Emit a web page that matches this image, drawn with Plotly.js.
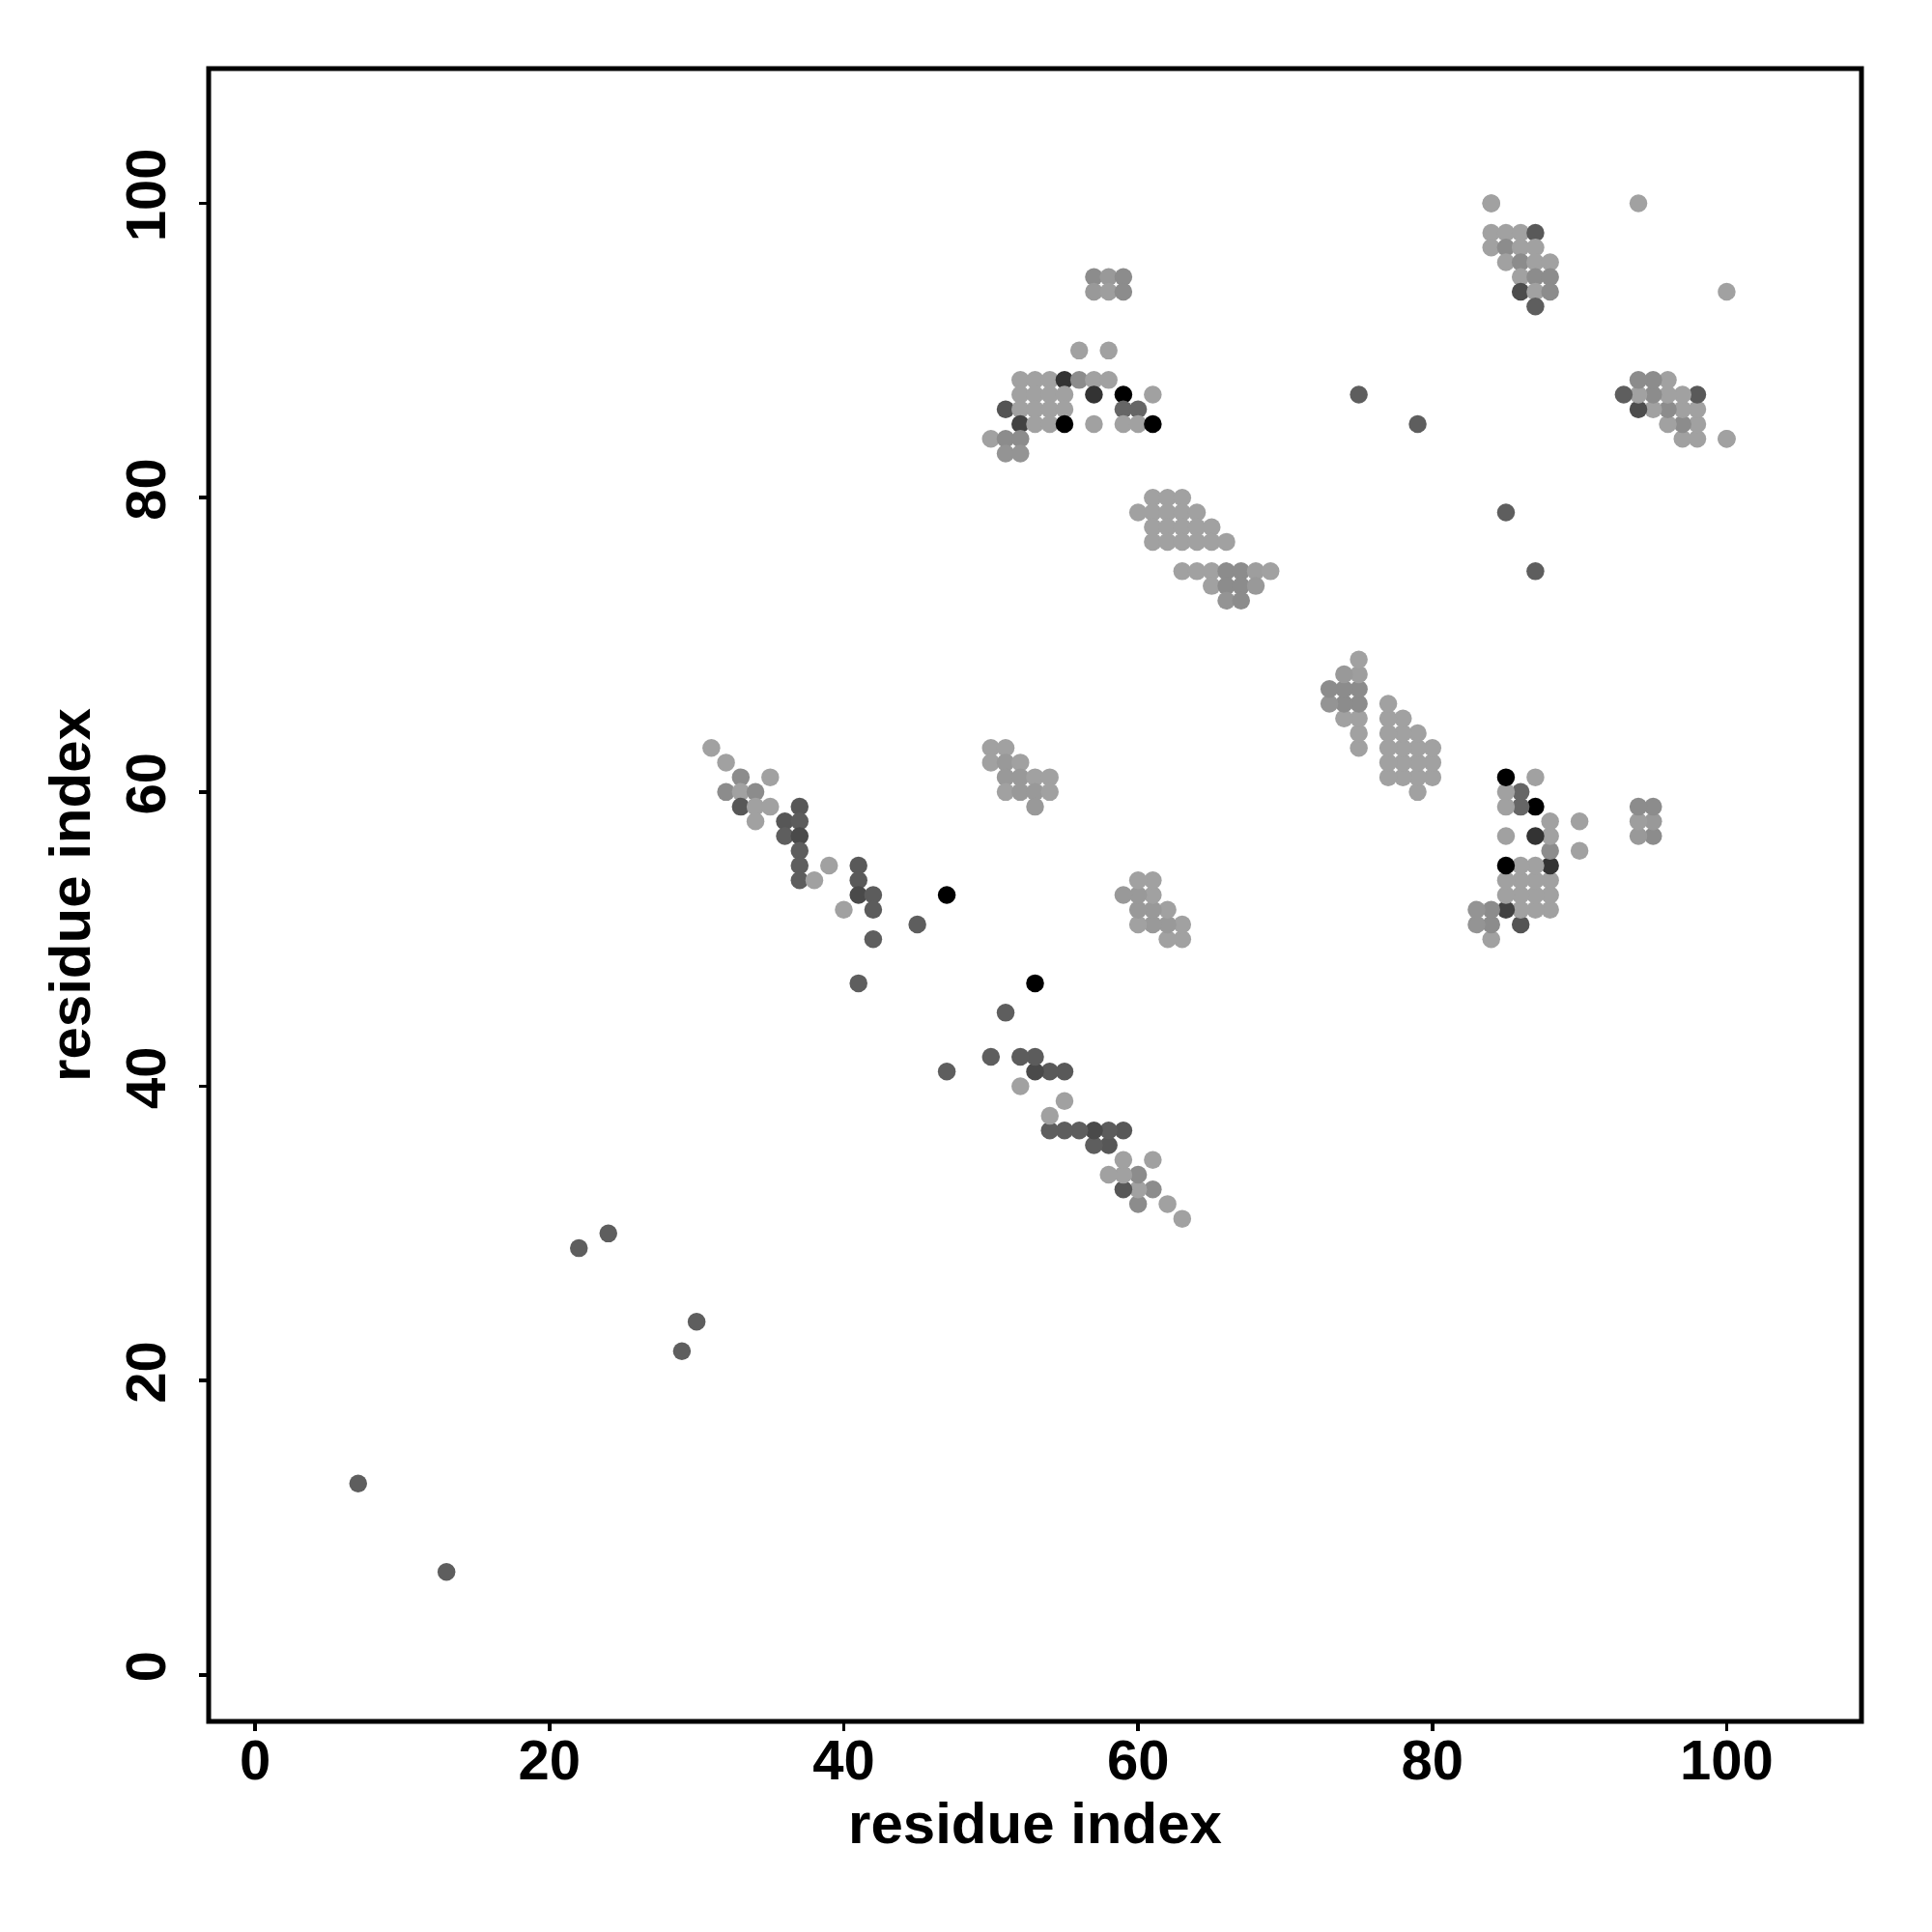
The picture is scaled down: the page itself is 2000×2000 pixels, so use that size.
<!DOCTYPE html>
<html>
<head>
<meta charset="utf-8">
<script src="https://cdn.plot.ly/plotly-3.0.1.min.js"></script>
<style>html,body{margin:0;padding:0;background:#fff;}#chart{width:2000px;height:2000px;}</style>
</head>
<body>
<div id="chart"></div>
<script>
// Contact pairs (residue i < residue j) and contact strength (0 = none, 1 = strongest)
const resI = [
  7,22,24,75,79,94,84,
  31,32,33,35,32,33,34,33,34,35,37,34,36,37,36,37,37,37,39,41,37,38,41,41,42,47,40,42,45,42,41,
  50,51,50,51,52,51,52,53,54,51,52,53,54,53,
  57,58,59,57,58,59,56,58,
  52,53,54,55,56,57,58,
  52,53,54,55,57,59,61,
  51,52,53,54,55,59,60,
  52,53,54,55,57,59,60,61,
  50,51,52,51,52,
  61,62,63,60,61,62,63,64,61,62,63,64,65,61,62,63,64,65,66,
  63,64,65,66,67,68,69,65,66,67,68,66,67,
  84,84,85,86,87,84,85,86,87,85,86,87,88,86,87,88,86,87,88,87
];
const resJ = [
  13,29,30,87,85,100,100,
  63,62,61,61,60,60,60,59,59,59,59,58,58,58,57,57,56,55,55,55,54,54,54,53,53,53,52,52,51,50,47,
  63,63,62,62,62,61,61,61,61,60,60,60,60,59,
  95,95,95,94,94,94,90,90,
  88,88,88,88,88,88,88,
  87,87,87,87,87,87,87,
  86,86,86,86,86,86,86,
  85,85,85,85,85,85,85,85,
  84,84,84,83,83,
  80,80,80,79,79,79,79,79,78,78,78,78,78,77,77,77,77,77,77,
  75,75,75,75,75,75,75,74,74,74,74,73,73,
  100,98,98,98,98,97,97,97,97,96,96,96,96,95,95,95,94,94,94,93
];
const strength = [
  0.63,0.63,0.63,0.63,0.63,0.37,0.37,
  0.37,0.37,0.45,0.37,0.45,0.37,0.45,0.66,0.37,0.37,0.66,0.37,0.66,0.64,0.63,0.71,0.63,0.63,0.37,0.65,0.63,0.37,0.65,0.71,0.64,1.0,0.37,0.64,0.63,0.63,0.63,
  0.37,0.37,0.37,0.40,0.37,0.40,0.40,0.37,0.37,0.37,0.40,0.40,0.37,0.40,
  0.45,0.40,0.45,0.40,0.38,0.45,0.37,0.37,
  0.37,0.37,0.37,0.80,0.45,0.37,0.37,
  0.37,0.37,0.37,0.37,0.80,1.0,0.37,
  0.67,0.37,0.37,0.37,0.37,0.60,0.60,
  0.74,0.37,0.37,1.0,0.37,0.37,0.37,1.0,
  0.37,0.45,0.45,0.42,0.42,
  0.37,0.37,0.37,0.37,0.37,0.37,0.37,0.37,0.37,0.37,0.37,0.37,0.37,0.37,0.37,0.37,0.37,0.37,0.37,
  0.37,0.37,0.37,0.45,0.45,0.38,0.37,0.37,0.45,0.45,0.40,0.42,0.45,
  0.37,0.37,0.37,0.37,0.65,0.37,0.45,0.37,0.37,0.37,0.45,0.37,0.37,0.37,0.45,0.45,0.70,0.37,0.45,0.63
];
const tickValues = [0, 20, 40, 60, 80, 100];
const axisLabel = 'residue index';

// symmetric contact map: draw (i,j) and (j,i)
const xs = resI.concat(resJ);
const ys = resJ.concat(resI);
const cs = strength.concat(strength);

const fontFam = 'Liberation Sans, Arial, Helvetica, sans-serif';
const trace = {
  type: 'scatter', mode: 'markers', x: xs, y: ys,
  marker: {
    size: 18.5, color: cs, cmin: 0, cmax: 1,
    colorscale: [[0, '#ffffff'], [1, '#000000']],
    showscale: false, line: {width: 0}
  },
  hoverinfo: 'x+y'
};

const axisCommon = {
  range: [-3.16, 109.16], tickvals: tickValues, ticktext: tickValues.map(String),
  ticks: 'outside', ticklen: 9, tickwidth: 3.5, tickcolor: '#000',
  showgrid: false, zeroline: false, showline: false, automargin: false,
  tickfont: {family: fontFam, size: 58, color: '#000', weight: 'bold'}
};

const layout = {
  width: 2000, height: 2000,
  margin: {l: 216, r: 73, t: 71, b: 218, pad: 0},
  paper_bgcolor: '#fff', plot_bgcolor: '#fff',
  showlegend: false,
  xaxis: Object.assign({}, axisCommon, {
    ticklabelstandoff: -20,
    title: {text: axisLabel, font: {family: fontFam, size: 60, color: '#000', weight: 'bold'}, standoff: 10}
  }),
  yaxis: Object.assign({}, axisCommon, {
    tickangle: -90, ticklabelstandoff: 12,
    title: {text: axisLabel, font: {family: fontFam, size: 60, color: '#000', weight: 'bold'}, standoff: 4}
  }),
  shapes: [{type: 'rect', xref: 'paper', yref: 'paper', x0: 0, x1: 1, y0: 0, y1: 1,
            line: {color: '#000', width: 5}, layer: 'above'}]
};

Plotly.newPlot('chart', [trace], layout, {staticPlot: true, displayModeBar: false});
</script>
</body>
</html>
